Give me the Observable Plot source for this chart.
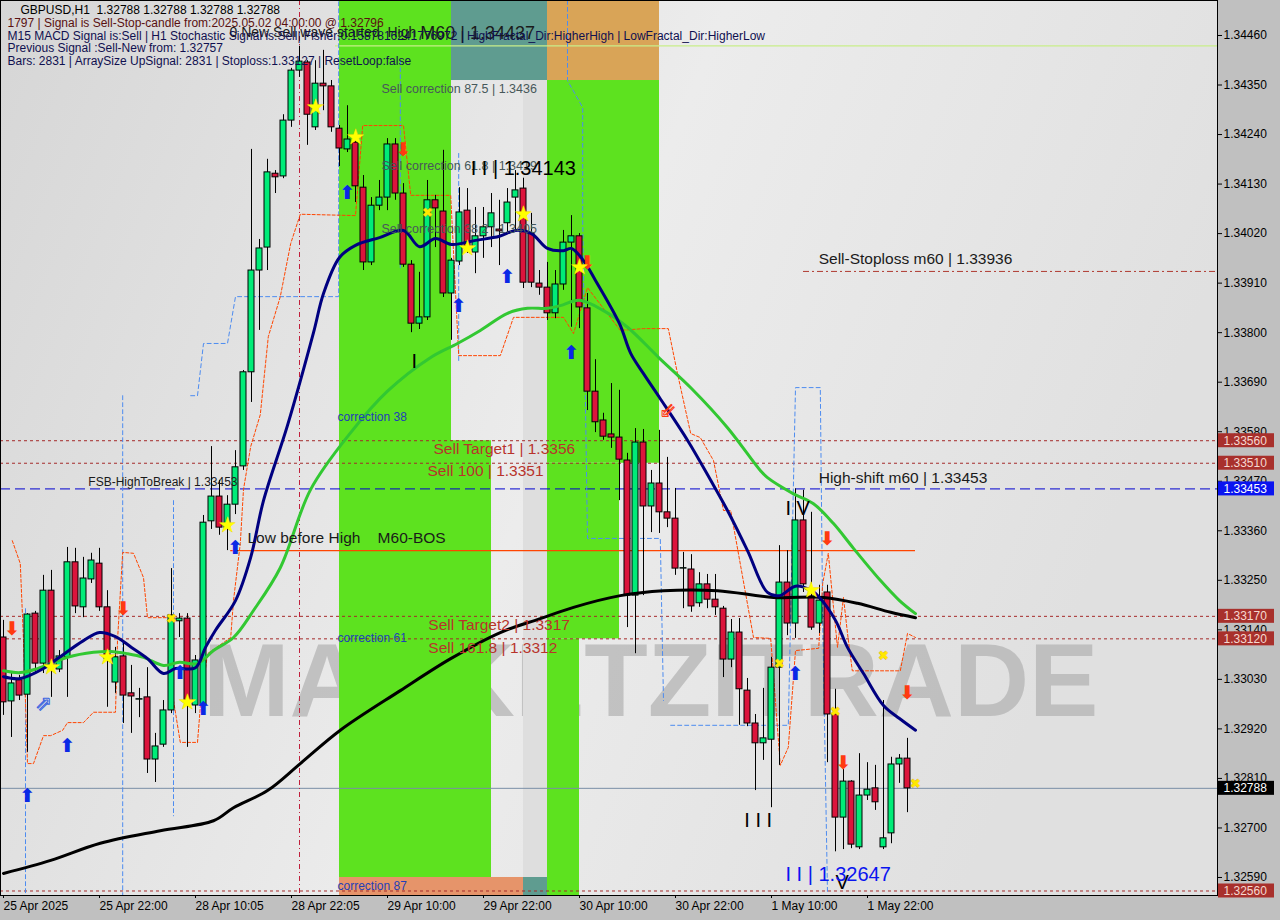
<!DOCTYPE html>
<html>
<head>
<meta charset="utf-8">
<script src="https://cdn.jsdelivr.net/npm/d3@7"></script>
<script src="https://cdn.jsdelivr.net/npm/@observablehq/plot@0.6"></script>
<style>
  html, body { margin: 0; padding: 0; background: #c0c0c0; }
  #chart svg { display: block; }
</style>
</head>
<body>
<div id="chart"></div>
<script>
// ---------------- DATA ----------------
const opens = [1.33123,1.32981,1.33028,1.32996,1.33176,1.33065,1.33227,1.33052,1.33079,1.33290,
1.33190,1.33252,1.33287,1.33190,1.33023,1.33081,1.32999,1.32985,1.32990,1.32852,
1.32885,1.32961,1.33159,1.33165,1.32972,1.32972,1.33381,1.33436,1.33367,1.33418,
1.33503,1.33712,1.33938,1.33989,1.34153,1.34147,1.34271,1.34382,1.34400,1.34256,
1.34353,1.34347,1.34253,1.34207,1.34222,1.34122,1.33956,1.34082,1.34100,1.34218,
1.34109,1.33951,1.33820,1.33834,1.34094,1.34069,1.33887,1.33958,1.34071,1.33978,
1.34014,1.34034,1.34029,1.34043,1.34100,1.34120,1.34020,1.33909,1.33900,1.33843,
1.33907,1.34000,1.34014,1.33854,1.33669,1.33605,1.33574,1.33567,1.33516,1.33216,
1.33556,1.33414,1.33465,1.33401,1.33387,1.33276,1.33274,1.33199,1.33241,1.33207,
1.33187,1.33074,1.33134,1.33005,1.32932,1.32888,1.32896,1.33056,1.33245,1.33154,
1.33383,1.33214,1.33154,1.33223,1.32952,1.32723,1.32803,1.32657,1.32772,1.32788,
1.32657,1.32688,1.32841,1.32854];
const highs = [1.33161,1.33043,1.33039,1.33176,1.33181,1.33261,1.33272,1.33094,1.33323,1.33321,
1.33301,1.33310,1.33321,1.33227,1.33101,1.33110,1.33061,1.33010,1.33056,1.32910,
1.32983,1.33276,1.33176,1.33176,1.33083,1.33394,1.33547,1.33472,1.33438,1.33538,
1.33716,1.34207,1.34007,1.34185,1.34160,1.34284,1.34387,1.34436,1.34404,1.34404,
1.34427,1.34360,1.34260,1.34304,1.34245,1.34149,1.34100,1.34138,1.34231,1.34231,
1.34131,1.33960,1.33934,1.34138,1.34105,1.34205,1.33965,1.34122,1.34120,1.34078,
1.34078,1.34109,1.34094,1.34120,1.34160,1.34143,1.34065,1.33938,1.33956,1.33938,
1.34027,1.34060,1.34020,1.33887,1.33740,1.33621,1.33687,1.33672,1.33532,1.33587,
1.33585,1.33494,1.33583,1.33523,1.33454,1.33312,1.33307,1.33267,1.33263,1.33263,
1.33192,1.33163,1.33165,1.33032,1.32952,1.33010,1.33079,1.33327,1.33316,1.33453,
1.33450,1.33401,1.33239,1.33239,1.33008,1.32830,1.32805,1.32865,1.32845,1.32839,
1.32983,1.32857,1.32863,1.32899];
const lows = [1.32950,1.32901,1.32983,1.32868,1.33043,1.33043,1.32990,1.33045,1.32990,1.33176,
1.33167,1.33243,1.33181,1.32968,1.32999,1.32932,1.32910,1.32945,1.32821,1.32801,
1.32879,1.32954,1.33123,1.32879,1.32954,1.32961,1.33363,1.33350,1.33316,1.33396,
1.33494,1.33645,1.33805,1.33938,1.34109,1.34142,1.34256,1.34367,1.34216,1.34249,
1.34293,1.34245,1.34169,1.34200,1.34089,1.33938,1.33949,1.34071,1.34071,1.34094,
1.33945,1.33800,1.33807,1.33827,1.33989,1.33878,1.33783,1.33949,1.33976,1.33931,
1.33965,1.33989,1.33949,1.34020,1.34027,1.33898,1.33900,1.33883,1.33827,1.33831,
1.33894,1.33812,1.33809,1.33627,1.33578,1.33561,1.33543,1.33427,1.33145,1.33087,
1.33216,1.33356,1.33354,1.33367,1.33261,1.33187,1.33179,1.33190,1.33187,1.33172,
1.33034,1.33056,1.32928,1.32925,1.32783,1.32850,1.32745,1.32839,1.33127,1.33121,
1.33223,1.33139,1.33132,1.32845,1.32647,1.32652,1.32654,1.32652,1.32761,1.32739,
1.32652,1.32665,1.32799,1.32734];
const closes = [1.32979,1.33021,1.32994,1.33174,1.33065,1.33227,1.33056,1.33081,1.33290,1.33192,
1.33254,1.33294,1.33190,1.33076,1.33079,1.32994,1.32992,1.32986,1.32852,1.32881,
1.32961,1.33172,1.33165,1.32983,1.33072,1.33378,1.33436,1.33367,1.33418,1.33501,
1.33712,1.33938,1.33987,1.34156,1.34145,1.34271,1.34382,1.34402,1.34284,1.34353,
1.34347,1.34256,1.34209,1.34229,1.34125,1.33956,1.34082,1.34100,1.34218,1.34109,
1.33951,1.33820,1.33834,1.34094,1.34076,1.33887,1.33960,1.34067,1.33989,1.34014,
1.34034,1.34065,1.34025,1.34089,1.34116,1.33911,1.33911,1.33900,1.33843,1.33907,
1.34000,1.34014,1.33856,1.33669,1.33601,1.33569,1.33567,1.33518,1.33216,1.33556,
1.33414,1.33465,1.33401,1.33387,1.33276,1.33277,1.33192,1.33241,1.33207,1.33190,
1.33074,1.33134,1.33008,1.32932,1.32888,1.32899,1.33056,1.33245,1.33154,1.33383,
1.33241,1.33145,1.33205,1.32952,1.32723,1.32803,1.32663,1.32772,1.32785,1.32757,
1.32677,1.32841,1.32854,1.32788];

// moving averages: [bar index, price]
const maFast = [[0,1.33036],[2.1,1.33032],[5,1.33054],[7,1.33079],[10,1.33116],[12,1.33134],[14,1.33125],[16,1.33101],[18,1.33076],[20,1.33043],[21.5,1.33054],[24,1.33056],[25.25,1.33101],[26.5,1.33139],[29,1.33205],[30.9,1.33301],[32.5,1.33427],[35.5,1.33594],[38.75,1.33800],[40,1.33887],[42,1.33967],[44,1.33994],[47,1.34011],[50,1.34027],[52,1.33991],[54,1.34009],[56,1.33996],[59,1.34005],[62,1.34014],[64,1.34027],[66,1.34020],[68,1.33987],[70,1.33982],[71,1.33987],[72.5,1.33960],[74,1.33916],[77,1.33820],[78.4,1.33754],[80,1.33709],[82,1.33656],[85.5,1.33561],[88.4,1.33472],[90.5,1.33405],[93,1.33316],[95.5,1.33223],[97,1.33216],[99,1.33237],[101,1.33227],[102,1.33212],[104,1.33161],[105.5,1.33101],[107.5,1.33043],[110,1.32972],[112,1.32943],[114,1.32917]];
const maMid = [[0,1.33049],[2.1,1.33045],[4.25,1.33054],[8,1.33079],[11.25,1.33090],[13.4,1.33092],[15.5,1.33087],[17.5,1.33079],[20,1.33061],[22,1.33068],[24.25,1.33065],[26.25,1.33094],[28.75,1.33123],[31.25,1.33183],[34.6,1.33278],[38.4,1.33452],[43.4,1.33578],[48,1.33670],[53.4,1.33745],[56.75,1.33776],[59.6,1.33805],[63,1.33843],[65.5,1.33854],[68,1.33854],[69.6,1.33860],[72,1.33872],[75,1.33849],[78,1.33812],[82,1.33743],[86,1.33676],[90.5,1.33589],[94.6,1.33494],[95.5,1.33478],[98.75,1.33442],[101.25,1.33420],[103.75,1.33376],[106.25,1.33321],[109.6,1.33250],[112,1.33205],[114,1.33176]];
const maSlow = [[0,1.32599],[5.9,1.32628],[12.1,1.32666],[19.6,1.32694],[26.25,1.32716],[28.75,1.32745],[33,1.32783],[37.1,1.32843],[42.1,1.32917],[49.6,1.33005],[55.9,1.33076],[62.1,1.33134],[67.1,1.33165],[71.25,1.33190],[77.1,1.33216],[82.5,1.33227],[89.25,1.33227],[96.25,1.33212],[102.5,1.33212],[106.75,1.33199],[110.9,1.33179],[114,1.33167]];

// dashed channel lines (null = gap)
const orangeChannel = [[1.1,1.33338],[2.1,1.33287],[2.5,1.33116],[3,1.32843],[3.75,1.32843],[5,1.32905],[5.9,1.32905],[7.4,1.32917],[8,1.32934],[10,1.32934],[11.25,1.32957],[14,1.32957],[14.25,1.33116],[14.9,1.33312],[16.25,1.33310],[17.5,1.33256],[18,1.33167],[20.9,1.33167],[21.25,1.32983],[22.1,1.32890],[24.25,1.32890],[24.6,1.32968],[25.5,1.33087],[28.4,1.33123],[28.75,1.33205],[29.6,1.33332],[30,1.33452],[30.9,1.33547],[32.1,1.33618],[33.1,1.33791],[34.6,1.33880],[35.9,1.33998],[37.1,1.34063],[44,1.34060],[44.9,1.34260],[50,1.34260],[50.9,1.34105],[55.9,1.34105],[56.9,1.33749],[62.1,1.33749],[63.75,1.33834],[70,1.33834],[71.25,1.33798],[73,1.33900],[77.1,1.33805],[80,1.33809],[83.1,1.33809],[84.25,1.33709],[85.9,1.33576],[87.1,1.33567],[88.75,1.33516],[90,1.33405],[90.9,1.33405],[93.75,1.33123],[95.9,1.33121],[97.1,1.32839],[98.1,1.32879],[99,1.33094],[101.9,1.33099],[102.4,1.33243],[103.1,1.33310],[103.75,1.33190],[104.25,1.33101],[105,1.33212],[105.5,1.33132],[106.1,1.33049],[112.1,1.33049],[113,1.33132],[114,1.33123]];
const blueChannel = [[2.75,1.33187],[2.75,1.32550],null,
[14.9,1.33660],[14.9,1.32550],null,
[21.25,1.33427],[21.25,1.32727],null,
[23.4,1.33660],[24.25,1.33660],[25,1.33776],[28,1.33776],[29,1.33880],[41.9,1.33880],[41.9,1.34538],null,
[49.6,1.34404],[49.6,1.33938],null,
[56.9,1.34198],[56.9,1.33738],null,
[70.5,1.34538],[70.5,1.34360],[72.4,1.34300],[72.4,1.34049],[73,1.33343],[82.1,1.33343],[82.5,1.32983],null,
[83.4,1.32928],[98.1,1.32928],[99,1.33678],[102.1,1.33678],[102.4,1.33161],[103,1.32555]];

// signal markers [bar index, price]
const buyArrows = [[3,1.32772],[8,1.32883],[22.1,1.33045],[25,1.32965],[29,1.33323],[43,1.34111],[56.9,1.33860],[63,1.33923],[71,1.33754],[99,1.33043]];
const sellArrows = [[1.1,1.33143],[15,1.33187],[50,1.34205],[73,1.33954],[103,1.33343],[105,1.32845],[113,1.33001]];
const hollowBuy = [[5,1.32977]];
const hollowSell = [[83,1.33627]];
const stars = [[6,1.33056],[13,1.33079],[23,1.32979],[28,1.33372],[39,1.34300],[44,1.34233],[58,1.33987],[65,1.34062],[72,1.33945],[101,1.33227]];
const crosses = [[21,1.33165],[53,1.34067],[97,1.33065],[104,1.32957],[110,1.33083],[114,1.32799]];

// levels
const redLevels = [1.33560, 1.33510, 1.33170, 1.33120, 1.32560];
const highShift = 1.33453;
const stopLoss = 1.33936;
const bosLevel = 1.33316;
const m60High = 1.34437;
const lastPrice = 1.32788;

// axis ticks
const yTicks = [1.34460,1.34350,1.34240,1.34130,1.34020,1.33910,1.33800,1.33690,1.33580,1.33470,1.33360,1.33250,1.33140,1.33030,1.32920,1.32810,1.32700,1.32590];
const xTickIdx = [0,12,24,36,48,60,72,84,96,108];
const xTickLabels = ["25 Apr 2025","25 Apr 22:00","28 Apr 10:05","28 Apr 22:05","29 Apr 10:00","29 Apr 22:00","30 Apr 10:00","30 Apr 22:00","1 May 10:00","1 May 22:00"];

// correction zones: bar range and price range
const zoneStart = [42, 56, 56, 68, 68, 68, 68, 42, 65, 65];
const zoneEnd   = [56, 61, 68, 82, 82, 77, 72, 65, 68, 68];
const zoneLow   = [1.32590, 1.32590, 1.34360, 1.34360, 1.33510, 1.33120, 1.32550, 1.32550, 1.32550, 1.32590];
const zoneHigh  = [1.34538, 1.33560, 1.34538, 1.34538, 1.34360, 1.33510, 1.33120, 1.32590, 1.32590, 1.34360];
const zoneKind  = ["g","g","t","o","g","g","g","ob","t","l"];

const priceBoxes = [
  {p:1.33560, k:"red"},{p:1.33510, k:"red"},{p:1.33453, k:"blue"},
  {p:1.33170, k:"red"},{p:1.33120, k:"red"},{p:1.32788, k:"black"},{p:1.32560, k:"red"}];

// ---------------- CHART ----------------
const xDomain = [-0.375, 151.75];
const yDomain = [1.32550, 1.345377];
const bars = opens.map((o, i) => ({i, o, h: highs[i], l: lows[i], c: closes[i]}));
const zones = zoneStart.map((s, k) => ({s, e: zoneEnd[k], lo: zoneLow[k], hi: zoneHigh[k], kind: zoneKind[k]}));
const zoneColor = {g: "#5de21f", t: "#5f9c90", o: "#d9a457", ob: "#e6946a", l: "#dedede"};
const boxFill = {red: "#a8302c", blue: "#0a14f0", black: "#000000"};
const boxText = {red: "#f6d8d0", blue: "#ffffff", black: "#ffffff"};
const pt = (a) => a ? a[0] : NaN;
const pp = (a) => a ? a[1] : NaN;

const headerLines = [
  {t: "GBPUSD,H1  1.32788 1.32788 1.32788 1.32788", dx: 20, dy: 5, c: "#000000"},
  {t: "1797 | Signal is Sell-Stop-candle from:2025.05.02 04:00:00 @ 1.32796", dx: 7, dy: 18, c: "#5a1010"},
  {t: "M15 MACD Signal is:Sell | H1 Stochastic Signal is:Sell| Fisher:0.1587816241776972 | HighFractal_Dir:HigherHigh | LowFractal_Dir:HigherLow", dx: 7, dy: 31, c: "#101050"},
  {t: "Previous Signal :Sell-New from: 1.32757", dx: 7, dy: 43, c: "#101050"},
  {t: "Bars: 2831 | ArraySize UpSignal: 2831 | Stoploss:1.33127 | ResetLoop:false", dx: 7, dy: 56, c: "#101050"}
];

const darkNotes = [
  {t: "Sell-Stoploss m60 | 1.33936", i: 101.9, p: 1.33963},
  {t: "High-shift m60 | 1.33453", i: 101.9, p: 1.33478},
  {t: "Low before High    M60-BOS", i: 30.5, p: 1.33343}
];
const redNotes = [
  {t: "Sell Target1 | 1.3356", i: 53.75, p: 1.33541},
  {t: "Sell 100 | 1.3351", i: 53, p: 1.33492},
  {t: "Sell Target2 | 1.3317", i: 53.1, p: 1.33150},
  {t: "Sell 161.8 | 1.3312", i: 53.1, p: 1.33099}
];
const blueNotes = [
  {t: "correction 38", i: 41.75, p: 1.33612},
  {t: "correction 61", i: 41.75, p: 1.33121},
  {t: "correction 87", i: 41.75, p: 1.32570}
];
const greyNotes = [
  {t: "Sell correction 87.5 | 1.3436", i: 47.25, p: 1.34342},
  {t: "Sell correction 61.8 | 1.3419", i: 47.25, p: 1.34171},
  {t: "Sell correction 38.2 | 1.3405", i: 47.25, p: 1.34031}
];
const waveNotes = [
  {t: "I I | 1.34143", i: 58.4, p: 1.34165},
  {t: "I", i: 51, p: 1.33736},
  {t: "I I I", i: 92.6, p: 1.32717},
  {t: "I V", i: 97.75, p: 1.33410},
  {t: "V", i: 104, p: 1.32579}
];

const chart = Plot.plot({
  width: 1280,
  height: 920,
  marginLeft: 0,
  marginRight: 63,
  marginTop: 0,
  marginBottom: 25,
  x: {domain: xDomain},
  y: {domain: yDomain},
  style: {background: "#c0c0c0", fontFamily: "'Liberation Sans', Arial, sans-serif", overflow: "visible"},
  marks: [
    Plot.frame({fill: "url(#bgGrad)"}),
    Plot.text(["MARKETZITRADE"], {x: 80.9, y: 1.33023, text: d => d, fontSize: 104, fontWeight: "bold", fill: "#b0b0b0", fillOpacity: 0.7, textAnchor: "middle"}),
    Plot.rect(zones, {x1: "s", x2: "e", y1: "lo", y2: "hi", fill: d => zoneColor[d.kind]}),
    // levels
    Plot.ruleY(redLevels, {stroke: "#a52a2a", strokeWidth: 1, strokeDasharray: "3,3"}),
    Plot.ruleY([highShift], {stroke: "#0000d0", strokeWidth: 1, strokeDasharray: "10,5"}),
    Plot.ruleY([lastPrice], {stroke: "#7a8fa6", strokeWidth: 1}),
    Plot.ruleY([stopLoss], {x1: 100, x2: xDomain[1], stroke: "#b03a30", strokeWidth: 1, strokeDasharray: "6,3,2,3"}),
    Plot.ruleY([m60High], {x1: 41.5, x2: xDomain[1], stroke: "#c8ee8a", strokeWidth: 1.2}),
    Plot.ruleX([37], {stroke: "#c0203c", strokeWidth: 1, strokeDasharray: "5,3,1,3"}),
    Plot.line(blueChannel, {x: pt, y: pp, stroke: "#4d8cf0", strokeWidth: 1, strokeDasharray: "4,3"}),
    Plot.line(orangeChannel, {x: pt, y: pp, stroke: "#ff4500", strokeWidth: 1, strokeDasharray: "3,2"}),
    Plot.ruleY([bosLevel], {x1: 28.4, x2: 114, stroke: "#ff4500", strokeWidth: 1.2}),
    // candles
    Plot.ruleX(bars, {x: "i", y1: "l", y2: "h", stroke: "#000000", strokeWidth: 1}),
    Plot.rect(bars, {x1: d => d.i - 0.375, x2: d => d.i + 0.375, y1: "o", y2: "c",
      fill: d => d.c > d.o ? "#00ec78" : d.c < d.o ? "#dc143c" : "#000000", stroke: "#000000", strokeWidth: 1}),
    // moving averages
    Plot.line(maSlow, {x: pt, y: pp, stroke: "#000000", strokeWidth: 3, curve: "catmull-rom"}),
    Plot.line(maMid, {x: pt, y: pp, stroke: "#32c832", strokeWidth: 3, curve: "catmull-rom"}),
    Plot.line(maFast, {x: pt, y: pp, stroke: "#000080", strokeWidth: 3, curve: "catmull-rom"}),
    // signals
    Plot.text(buyArrows, {x: pt, y: pp, text: () => "⬆", fill: "#0a28e6", fontSize: 19, fontFamily: "DejaVu Sans", fontWeight: "bold"}),
    Plot.text(sellArrows, {x: pt, y: pp, text: () => "⬇", fill: "#ff3a10", fontSize: 19, fontFamily: "DejaVu Sans", fontWeight: "bold"}),
    Plot.text(hollowBuy, {x: pt, y: pp, text: () => "⇗", fill: "none", stroke: "#3a64e0", strokeWidth: 1, fontSize: 20, fontFamily: "DejaVu Sans"}),
    Plot.text(hollowSell, {x: pt, y: pp, text: () => "⇙", fill: "none", stroke: "#ff3a10", strokeWidth: 1, fontSize: 20, fontFamily: "DejaVu Sans"}),
    Plot.text(stars, {x: pt, y: pp, text: () => "★", fill: "#ffff00", stroke: "#e8c800", strokeWidth: 0.5, fontSize: 21, fontFamily: "DejaVu Sans"}),
    Plot.text(crosses, {x: pt, y: pp, text: () => "✖", fill: "#ffe800", stroke: "#e09000", strokeWidth: 0.5, fontSize: 13, fontFamily: "DejaVu Sans"}),
    // annotations
    Plot.text(darkNotes, {x: "i", y: "p", text: "t", textAnchor: "start", fill: "#1a1a1a", fontSize: 15.5}),
    Plot.text(redNotes, {x: "i", y: "p", text: "t", textAnchor: "start", fill: "#b8332b", fontSize: 15.5}),
    Plot.text(blueNotes, {x: "i", y: "p", text: "t", textAnchor: "start", fill: "#1f3fb8", fontSize: 12}),
    Plot.text(greyNotes, {x: "i", y: "p", text: "t", textAnchor: "start", fill: "#47585a", fontSize: 12.5}),
    Plot.text(["FSB-HighToBreak | 1.33453"], {x: 10.6, y: 1.33467, text: d => d, textAnchor: "start", fill: "#1a1a1a", fontSize: 12}),
    Plot.text(waveNotes, {x: "i", y: "p", text: "t", textAnchor: "start", fill: "#000000", fontSize: 20}),
    Plot.text(["I I | 1.32647"], {x: 97.75, y: 1.32597, text: d => d, textAnchor: "start", fill: "#0a14f0", fontSize: 20}),
    Plot.text(["M60 | 1.34437"], {x: 52.1, y: 1.34464, text: d => d, textAnchor: "start", fill: "#1a1a1a", fontSize: 18}),
    Plot.text(["0 New Sell wave started  High"], {x: 28.25, y: 1.34467, text: d => d, textAnchor: "start", fill: "#1a1a1a", fontSize: 14}),
    ...headerLines.map(h => Plot.text([h.t], {frameAnchor: "top-left", dx: h.dx, dy: h.dy, text: d => d, textAnchor: "start", lineAnchor: "top", fill: h.c, fontSize: 12})),
    // axes
    Plot.axisY({anchor: "right", ticks: yTicks, tickFormat: d => d.toFixed(5), tickSize: 4, tickPadding: 2, fontSize: 12, label: null}),
    Plot.axisX({ticks: xTickIdx, tickFormat: d => xTickLabels[xTickIdx.indexOf(d)], tickSize: 3, tickPadding: 3, textAnchor: "start", fontSize: 12, label: null}),
    // price boxes on the right axis
    Plot.rect(priceBoxes, {x1: () => xDomain[1], x2: () => xDomain[1], y1: "p", y2: "p", insetLeft: 1, insetRight: -57, insetTop: -7, insetBottom: -7, fill: d => boxFill[d.k]}),
    Plot.text(priceBoxes, {y: "p", frameAnchor: "right", dx: 6, textAnchor: "start", text: d => d.p.toFixed(5), fill: d => boxText[d.k], fontSize: 12}),
    Plot.frame({stroke: "#000000", strokeWidth: 1})
  ]
});

const defs = d3.select(chart).insert("defs", ":first-child");
const grad = defs.append("linearGradient").attr("id", "bgGrad").attr("x1", "0").attr("x2", "1").attr("y1", "0").attr("y2", "0.3");
grad.append("stop").attr("offset", "0%").attr("stop-color", "#d6d6d6");
grad.append("stop").attr("offset", "55%").attr("stop-color", "#ececec");
grad.append("stop").attr("offset", "100%").attr("stop-color", "#e0e0e0");

document.getElementById("chart").appendChild(chart);
</script>
</body>
</html>
